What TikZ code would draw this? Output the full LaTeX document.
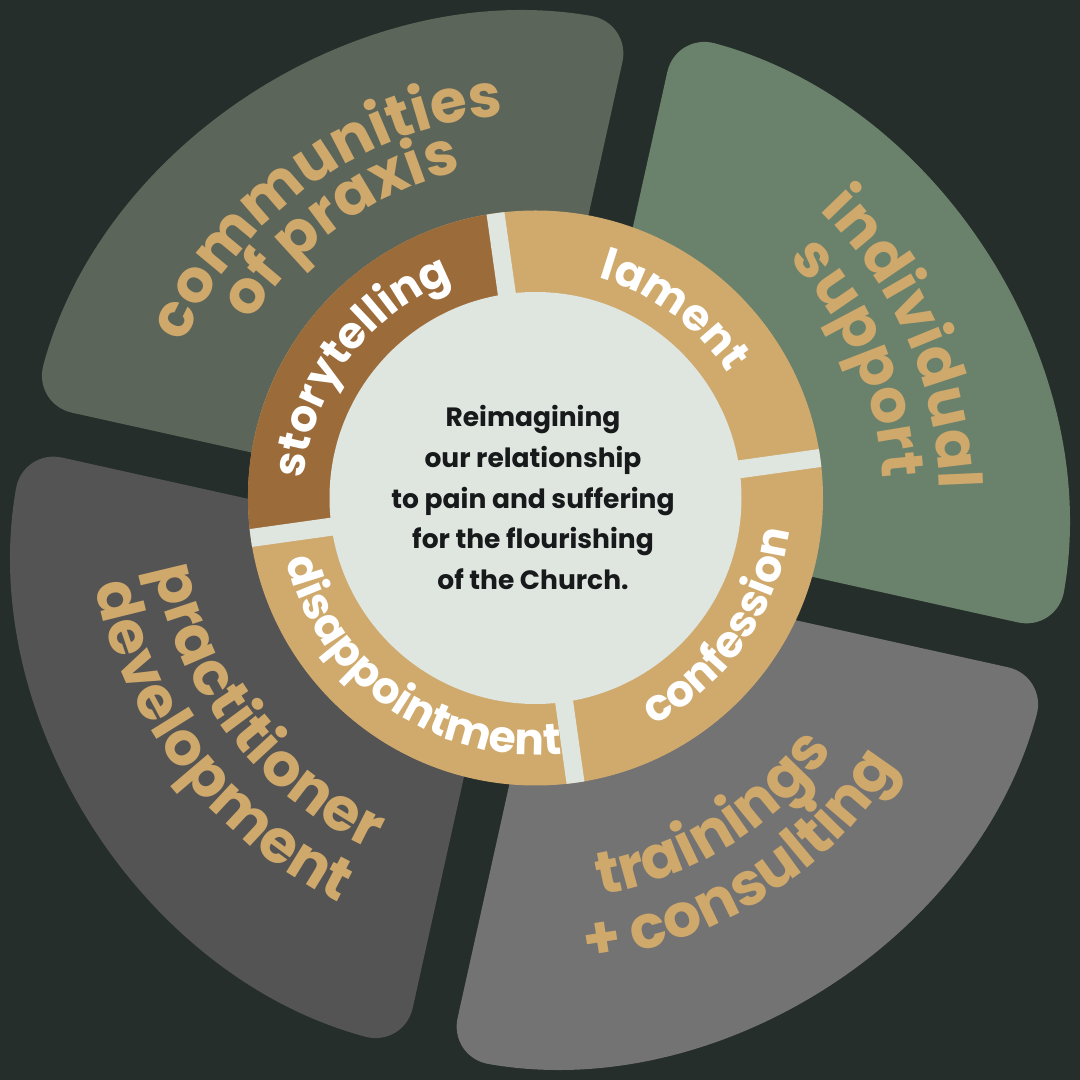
\documentclass[tikz,border=0pt]{standalone}
\usepackage{fontspec}
\setmainfont{Poppins}
\usetikzlibrary{decorations.text,calc}
\definecolor{bgc}{HTML}{252E2A}
\definecolor{segtop}{HTML}{5C6559}
\definecolor{segright}{HTML}{6A826B}
\definecolor{segbottom}{HTML}{737373}
\definecolor{segleft}{HTML}{545454}
\definecolor{gold}{HTML}{CFA86B}
\definecolor{ringtan}{HTML}{D0AA6D}
\definecolor{ringbrown}{HTML}{9C6B3A}
\definecolor{pale}{HTML}{DFE5DF}
\definecolor{ink}{HTML}{17191B}
\newcommand\ringfont{\fontsize{44}{44}\selectfont\bfseries}
\newcommand\outerfont{\fontsize{60}{60}\selectfont\bfseries}
\newcommand\outsector[2]{%
  \pgfmathsetmacro\aA{#2+2.51}%
  \pgfmathsetmacro\aB{#2+90-2.51}%
  \pgfmathsetmacro\aM{#2+45}%
  \fill[#1, rounded corners=40] ($(C)+(\aM:32.5)$) -- ($(C)+(\aA:525)$)
     arc[start angle=\aA, end angle=\aB, radius=525] -- cycle;%
}
\tikzset{
  ringtxt/.style={decorate, decoration={text along path, text align=center,
      text color=white, text={|\ringfont|#1}}},
  outertxt/.style={decorate, decoration={text along path, text align=center,
      text color=gold, text={|\outerfont|#1}}},
}
\begin{document}
\begin{tikzpicture}[x=1pt,y=1pt]
\useasboundingbox (0,0) rectangle (1080,1080);
\fill[bgc] (0,0) rectangle (1080,1080);
\coordinate (C) at (540,540);
\coordinate (O) at (535.5,582);
% outer sectors
\outsector{segtop}{77.5}
\outsector{segright}{-12.5}
\outsector{segbottom}{-102.5}
\outsector{segleft}{167.5}
% ring
\fill[ringtan] (O) circle (287.5);
\fill[ringbrown] (O) -- ($(O)+(98:287.5)$) arc[start angle=98, end angle=188, radius=287.5] -- cycle;
\begin{scope}
  \clip (O) circle (287.5);
  \foreach \g in {8,98,188,278} \draw[pale, line width=18] (O) -- ($(O)+(\g:300)$);
\end{scope}
\fill[pale] (O) circle (206);
% centre text
\node[align=center, text=ink, font=\fontsize{26.5}{40.6}\selectfont\bfseries] (mission) at (533,582.5)
  {Reimagining\\our relationship\\to pain and suffering\\for the flourishing\\of the Church.};
% ring labels
\path[ringtxt=storytelling] ($(O)+(183:232)$) arc[start angle=183, end angle=103, radius=232];
\path[ringtxt=lament] ($(O)+(93.5:229)$) arc[start angle=93.5, end angle=13.5, radius=229];
\path[ringtxt=confession] ($(O)+(-80:256)$) arc[start angle=-80, end angle=10, radius=256];
\path[ringtxt=disappointment] ($(O)+(185:257)$) arc[start angle=185, end angle=285, radius=257];
% outer labels
\path[outertxt=communities] ($(O)+(170.5:384)$) arc[start angle=170.5, end angle=80.5, radius=384];
\path[outertxt=of praxis] ($(O)+(170.5:335)$) arc[start angle=170.5, end angle=80.5, radius=335];
\path[outertxt=individual] ($(O)+(68.3:404)$) arc[start angle=68.3, end angle=-21.7, radius=404];
\path[outertxt=support] ($(O)+(68.3:348)$) arc[start angle=68.3, end angle=-21.7, radius=348];
\path[outertxt=trainings] ($(C)+(-103:360)$) arc[start angle=-103, end angle=-13, radius=360];
\path[outertxt=+ consulting] ($(C)+(-103:423)$) arc[start angle=-103, end angle=-13, radius=423];
\path[outertxt=practitioner] ($(O)+(172.7:388)$) arc[start angle=172.7, end angle=262.7, radius=388];
\path[outertxt=development] ($(O)+(172.7:449)$) arc[start angle=172.7, end angle=262.7, radius=449];
\end{tikzpicture}
\end{document}
